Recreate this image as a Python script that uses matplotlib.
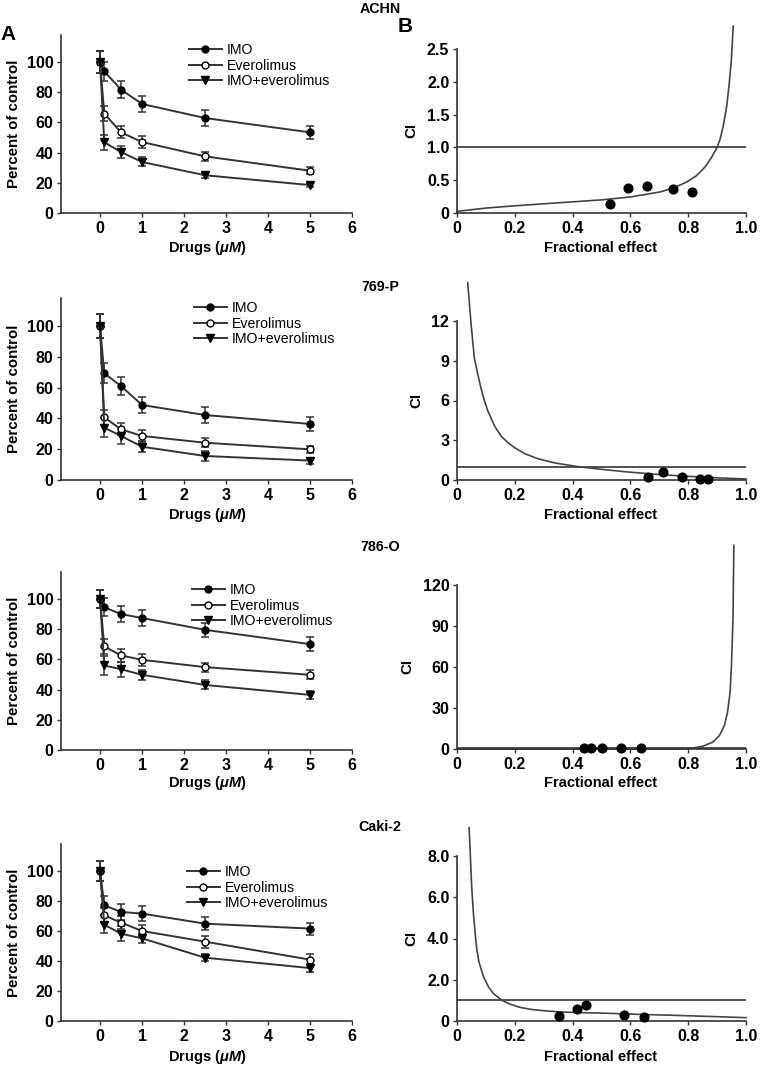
import numpy as np
import matplotlib
matplotlib.use('Agg')
import matplotlib.pyplot as plt
from matplotlib.lines import Line2D

plt.rcParams['font.family'] = ['Liberation Sans', 'DejaVu Sans']
plt.rcParams['mathtext.fontset'] = 'custom'
plt.rcParams['mathtext.it'] = 'Liberation Sans:italic:bold'
plt.rcParams['mathtext.rm'] = 'Liberation Sans'

# doses (uM)
dose = [0, 0.1, 0.5, 1, 2.5, 5]
cells = ['ACHN', '769-P', '786-O', 'Caki-2']

# percent of control, mean and error for each cell line
imo = [[100, 93.8, 81.7, 72.2, 62.9, 53.4],
       [100, 69.3, 61.0, 48.7, 42.2, 36.4],
       [100, 94.5, 90.0, 87.4, 79.6, 70.1],
       [100, 77.1, 72.7, 71.6, 64.9, 61.6]]
imo_err = [[7, 6.5, 5.5, 5, 5, 4.5],
           [8, 6.5, 6, 5, 5, 4.5],
           [6, 6, 5.5, 5, 4.5, 4.5],
           [6.5, 6.5, 5.5, 5, 4.5, 4]]
eve = [[100, 65.8, 53.4, 47.0, 37.5, 28.0],
       [100, 40.7, 32.9, 28.6, 24.2, 19.9],
       [100, 68.6, 62.6, 59.7, 54.9, 49.8],
       [100, 70.4, 65.6, 60.0, 52.9, 40.9]]
eve_err = [[7, 5, 4, 4, 3, 2.5],
           [8, 5, 4, 4, 3, 2.5],
           [6, 5, 4.5, 4, 3, 3],
           [6.5, 5, 4.5, 4, 4, 3.5]]
combo = [[100, 46.8, 40.4, 33.8, 25.0, 18.5],
         [100, 34.0, 28.6, 21.6, 15.6, 12.6],
         [100, 56.0, 53.5, 49.8, 43.1, 36.5],
         [100, 64.2, 58.2, 55.1, 42.2, 35.3]]
combo_err = [[7, 5, 4, 3, 2, 1.5],
             [8, 6, 5, 3.5, 3, 2],
             [6, 6, 5, 3.5, 3, 2.5],
             [6.5, 5.5, 5, 3, 2.5, 2.5]]

# CI vs fractional effect curves
curve_fa = [[0, 0.1, 0.2, 0.3, 0.4, 0.5, 0.6, 0.702, 0.748, 0.794, 0.829, 0.858, 0.881, 0.898,
             0.91, 0.921, 0.933, 0.942, 0.949, 0.956],
            [0.037, 0.049, 0.06, 0.072, 0.084, 0.095, 0.107, 0.13, 0.153, 0.177, 0.2, 0.235,
             0.281, 0.34, 0.421, 0.502, 0.584, 0.66, 0.71, 0.78, 0.83, 0.9, 0.95, 1.0],
            [0, 0.2, 0.4, 0.6, 0.769, 0.815, 0.85, 0.884, 0.908, 0.925, 0.936, 0.945, 0.95,
             0.955, 0.958],
            [0.042, 0.046, 0.051, 0.057, 0.063, 0.069, 0.076, 0.092, 0.109, 0.126, 0.155, 0.183,
             0.218, 0.258, 0.315, 0.372, 0.42, 0.483, 0.57, 0.655, 0.74, 0.83, 0.92, 1.0]]
curve_ci = [[0.025, 0.075, 0.11, 0.14, 0.17, 0.2, 0.245, 0.32, 0.38, 0.47, 0.57, 0.70, 0.85, 0.985,
             1.12, 1.32, 1.62, 1.97, 2.32, 2.85],
            [14.9, 11.7, 9.2, 7.97, 6.84, 5.96, 5.2, 4.07, 3.3, 2.8, 2.43, 1.98,
             1.6, 1.28, 1.0, 0.8, 0.62, 0.48, 0.4, 0.3, 0.24, 0.16, 0.12, 0.08],
            [0, 0, 0, 0, 0, 0.7, 2, 4.9, 9.8, 17, 26.8, 41.5, 63, 95, 149],
            [9.37, 8.08, 6.47, 5.19, 4.22, 3.42, 2.86, 2.14, 1.65, 1.33, 1.01, 0.82,
             0.66, 0.56, 0.48, 0.43, 0.41, 0.39, 0.35, 0.31, 0.28, 0.24, 0.2, 0.16]]
# measured combination points
pt_fa = [[0.53, 0.593, 0.656, 0.749, 0.812],
         [0.66, 0.714, 0.78, 0.84, 0.87],
         [0.439, 0.462, 0.502, 0.568, 0.637],
         [0.354, 0.414, 0.445, 0.577, 0.646]]
pt_ci = [[0.14, 0.385, 0.415, 0.365, 0.315],
         [0.25, 0.58, 0.25, 0.1, 0.08],
         [0.5, 0.5, 0.5, 0.5, 0.5],
         [0.24, 0.58, 0.78, 0.29, 0.19]]

ci_ticks = [[0, 0.5, 1.0, 1.5, 2.0, 2.5], [0, 3, 6, 9, 12], [0, 30, 60, 90, 120], [0, 2, 4, 6, 8]]
ci_labels = [['0', '0.5', '1.0', '1.5', '2.0', '2.5'], ['0', '3', '6', '9', '12'],
             ['0', '30', '60', '90', '120'], ['0', '2.0', '4.0', '6.0', '8.0']]

W, H = 762, 1069
fig = plt.figure(figsize=(W / 100, H / 100), dpi=100)

# pixel layout: (y of 0, y of 100) for left panels, (y of 0, y of top tick) for right
left_y = [(213, 62), (480, 326), (750, 599), (1021, 871)]
right_y = [(213, 49), (480, 321), (749, 585), (1021, 856)]
title_y = [9, 287, 547, 827]
leg_y = [43, 301, 583, 865]
leg_x = [189, 194, 192, 187]
xlab_y = [248, 515, 783, 1057]

line_col = '#333333'

for i in range(4):
    # left panel
    y0, y100 = left_y[i]
    h = 1.18 * (y0 - y100)
    ax = fig.add_axes([61 / W, 1 - y0 / H, 291 / W, h / H])
    for m, e in [(imo[i], imo_err[i]), (eve[i], eve_err[i]), (combo[i], combo_err[i])]:
        ax.errorbar(dose, m, yerr=e, fmt='none', ecolor=line_col, elinewidth=1.1, capsize=3, capthick=1.1)
    ax.plot(dose, imo[i], '-o', color=line_col, mfc='black', mec='black', ms=5, lw=1.4)
    ax.plot(dose, eve[i], '-o', color=line_col, mfc='white', mec='black', ms=5, lw=1.4, mew=1)
    ax.plot(dose, combo[i], '-v', color=line_col, mfc='black', mec='black', ms=5.5, lw=1.4)
    ax.set_xlim(-0.93, 6)
    ax.set_ylim(0, 118)
    ax.set_xticks(range(7))
    ax.set_yticks([0, 20, 40, 60, 80, 100])
    for s in ['top', 'right']:
        ax.spines[s].set_visible(False)
    for s in ['left', 'bottom']:
        ax.spines[s].set_color(line_col)
        ax.spines[s].set_linewidth(1.2)
    ax.tick_params(length=3, width=1, color=line_col, pad=2.5)
    for lab in ax.get_xticklabels() + ax.get_yticklabels():
        lab.set_fontsize(11.5)
        lab.set_fontweight('bold')
    ax.set_ylabel('Percent of control', fontsize=10.8, fontweight='bold', labelpad=4)
    handles = [Line2D([], [], color=line_col, marker='o', mfc='black', mec='black', ms=5, lw=1.4),
               Line2D([], [], color=line_col, marker='o', mfc='white', mec='black', ms=5, lw=1.4),
               Line2D([], [], color=line_col, marker='v', mfc='black', mec='black', ms=5.5, lw=1.4)]
    ax.legend(handles, ['IMO', 'Everolimus', 'IMO+everolimus'], loc='upper left',
              bbox_to_anchor=(leg_x[i] / W, 1 - leg_y[i] / H), bbox_transform=fig.transFigure,
              frameon=False, fontsize=10.2, handlelength=2.3, handletextpad=0.35,
              labelspacing=0.12, borderpad=0, borderaxespad=0)
    fig.text(207 / W, 1 - xlab_y[i] / H, 'Drugs ($\\mathit{\\mu M}$)', ha='center', va='center',
             fontsize=10.5, fontweight='bold')

    # right panel
    r0, rt = right_y[i]
    axr = fig.add_axes([457 / W, 1 - r0 / H, 289 / W, (r0 - rt) / H])
    axr.axhline(1, color=line_col, lw=1.2)
    axr.plot(curve_fa[i], curve_ci[i], color='#444444', lw=1.2, clip_on=False)
    axr.plot(pt_fa[i], pt_ci[i], 'o', color='black', ms=6.3, clip_on=False, zorder=5)
    axr.set_xlim(0, 1.0)
    axr.set_ylim(0, ci_ticks[i][-1])
    axr.set_xticks([0, 0.2, 0.4, 0.6, 0.8, 1.0])
    axr.set_xticklabels(['0', '0.2', '0.4', '0.6', '0.8', '1.0'])
    axr.set_yticks(ci_ticks[i])
    axr.set_yticklabels(ci_labels[i])
    for s in ['top', 'right']:
        axr.spines[s].set_visible(False)
    for s in ['left', 'bottom']:
        axr.spines[s].set_color(line_col)
        axr.spines[s].set_linewidth(1.2)
    axr.tick_params(length=3, width=1, color=line_col, pad=2.5)
    for lab in axr.get_xticklabels() + axr.get_yticklabels():
        lab.set_fontsize(11.5)
        lab.set_fontweight('bold')
    axr.set_ylabel('CI', fontsize=10.8, fontweight='bold', labelpad=6)
    fig.text(601 / W, 1 - xlab_y[i] / H, 'Fractional effect', ha='center', va='center',
             fontsize=10.5, fontweight='bold')

    fig.text(380 / W, 1 - title_y[i] / H, cells[i], ha='center', va='center',
             fontsize=10.3, fontweight='bold')

fig.text(8 / W, 1 - 34 / H, 'A', ha='center', va='center', fontsize=15, fontweight='bold')
fig.text(405 / W, 1 - 26 / H, 'B', ha='center', va='center', fontsize=15, fontweight='bold')

fig.savefig('out.png', dpi=100)
